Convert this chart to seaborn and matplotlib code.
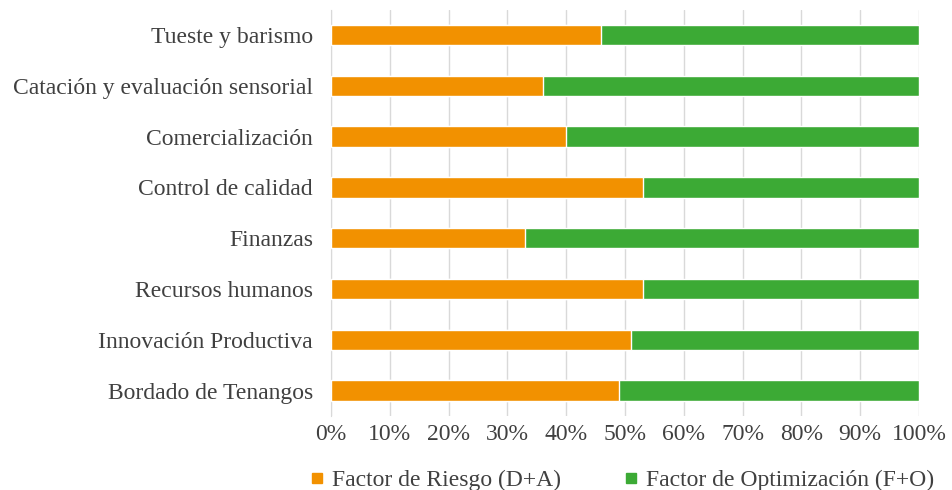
import pandas as pd
import seaborn as sns
import matplotlib.pyplot as plt
from matplotlib.lines import Line2D

# data (percent of each area)
areas = ['Tueste y barismo', 'Catación y evaluación sensorial', 'Comercialización',
         'Control de calidad', 'Finanzas', 'Recursos humanos',
         'Innovación Productiva', 'Bordado de Tenangos']
riesgo = [46, 36, 40, 53, 33, 53, 51, 49]
optimizacion = [54, 64, 60, 47, 67, 47, 49, 51]
ticks = [0, 10, 20, 30, 40, 50, 60, 70, 80, 90, 100]

ORANGE = '#F29100'
GREEN = '#3CAA35'
TEXT = '#404040'

sns.set_style('white')
plt.rcParams['font.family'] = ['Liberation Serif', 'DejaVu Serif']

df = pd.DataFrame({'area': areas, 'riesgo': riesgo, 'optim': optimizacion})
df['total'] = df['riesgo'] + df['optim']

fig = plt.figure(figsize=(9.53, 4.90), dpi=100)
ax = fig.add_axes([0.3473, 0.151, 0.617, 0.8294])

# stacked: full bar in green, risk part on top in orange
sns.barplot(data=df, x='total', y='area', orient='h', color=GREEN,
            width=0.4, saturation=1, ax=ax, zorder=2)
sns.barplot(data=df, x='riesgo', y='area', orient='h', color=ORANGE,
            width=0.4, saturation=1, ax=ax, zorder=3)

ax.set_xlim(0, 100)
ax.set_xticks(ticks)
ax.set_xticklabels([f'{t}%' for t in ticks])
ax.xaxis.grid(True, color='#d9d9d9', linewidth=1, zorder=0)
ax.set_axisbelow(True)
for s in ['top', 'right', 'bottom']:
    ax.spines[s].set_visible(False)
ax.spines['left'].set_color('#d9d9d9')
ax.set_xlabel('')
ax.set_ylabel('')
ax.tick_params(axis='both', length=0, labelsize=17, colors=TEXT)
ax.tick_params(axis='y', pad=13)
ax.tick_params(axis='x', pad=6)

handles = [Line2D([], [], marker='s', linestyle='', color=ORANGE, markersize=6.5),
           Line2D([], [], marker='s', linestyle='', color=GREEN, markersize=6.5)]
fig.legend(handles, ['Factor de Riesgo (D+A)', 'Factor de Optimización (F+O)'],
           loc='center', bbox_to_anchor=(0.652, 0.02), ncol=2, frameon=False,
           fontsize=17, labelcolor=TEXT, handletextpad=0.3, columnspacing=2.6,
           handlelength=0.7)

fig.savefig('out.png', dpi=100)
